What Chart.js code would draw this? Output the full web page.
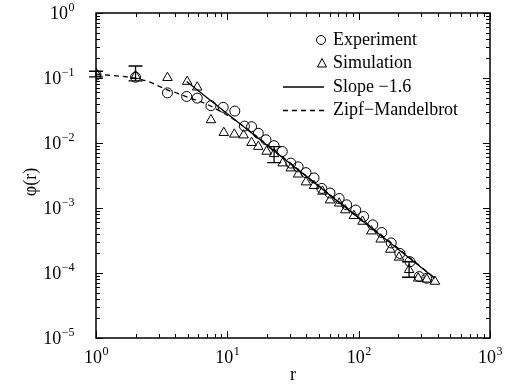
<!DOCTYPE html>
<html>
<head>
<meta charset="UTF-8">
<title>phi(r)</title>
<script src="https://cdn.jsdelivr.net/npm/chart.js"></script>
<style>
  body { margin: 0; background: #fff; }
  #wrap { width: 512px; height: 385px; }
</style>
</head>
<body>
<div id="wrap"><canvas id="c" width="512" height="385"></canvas></div>
<script>
// experiment (circles)
const expR = [1, 2, 3.5, 4.9, 5.9, 7.5, 9.3, 11.4, 13.5, 15.3, 17.2, 19.7, 22.7, 26.2, 30.4, 34.6, 39.7, 45.7, 52.4, 60.5, 71, 81, 95, 109, 128, 150, 177, 206, 246, 289, 330];
const expPhi = [0.111, 0.103, 0.059, 0.052, 0.049, 0.0375, 0.0354, 0.031, 0.0182, 0.0178, 0.0141, 0.0112, 0.0091, 0.0074, 0.0049, 0.0043, 0.0035, 0.0029, 0.0020, 0.0017, 0.0014, 0.00112, 0.00093, 0.00074, 0.00055, 0.00042, 0.00029, 0.00020, 0.000149, 0.000088, 0.000083];

// simulation (triangles)
const simR = [1, 2, 3.5, 4.95, 5.9, 7.5, 9.4, 11.3, 13.3, 15.3, 17.2, 19.9, 22.7, 26.4, 30.4, 34.6, 39.7, 45.7, 53, 60.5, 71, 79, 92, 107, 125, 147, 174, 203, 242, 284, 330, 381];
const simPhi = [0.118, 0.108, 0.101, 0.088, 0.072, 0.0226, 0.0144, 0.0136, 0.0132, 0.0101, 0.0088, 0.0074, 0.0068, 0.0049, 0.0041, 0.0033, 0.0025, 0.0022, 0.0018, 0.00132, 0.00118, 0.00093, 0.00076, 0.00062, 0.00044, 0.00033, 0.00023, 0.000174, 0.000112, 0.000083, 0.000080, 0.000074];

// error bars
const errR = [1, 2, 22.7, 242];
const errLo = [0.104, 0.090, 0.0050, 0.000086];
const errHi = [0.127, 0.153, 0.0088, 0.000149];

// fitted lines
const slopeR = [4.9, 380];
const slopePhi = [0.088, 0.000083];
const zipfR = [1, 2, 2.5, 3.45, 4.2, 5.2, 6.5, 8.1, 12, 20, 40, 100, 200, 380];
const zipfPhi = [0.115, 0.099, 0.088, 0.066, 0.058, 0.049, 0.042, 0.034, 0.021, 0.0095, 0.0031, 0.00072, 0.00024, 0.000083];

const xDecades = [0, 1, 2, 3];
const yDecades = [0, -1, -2, -3, -4, -5];

const legendNames = ['Experiment', 'Simulation', 'Slope \u22121.6', 'Zipf\u2212Mandelbrot'];

const SERIF = '"Liberation Serif", "DejaVu Serif", serif';

function pts(xs, ys) { return xs.map((x, i) => ({ x: x, y: ys[i] })); }

// frame, inward ticks, tick labels, axis titles, error bars, legend
const decor = {
  id: 'decor',
  afterDatasetsDraw(chart) {
    const ctx = chart.ctx;
    const a = chart.chartArea;
    const xs = chart.scales.x, ys = chart.scales.y;
    ctx.save();
    ctx.strokeStyle = '#000';
    ctx.fillStyle = '#000';

    // error bars
    ctx.lineWidth = 1.3;
    errR.forEach((r, i) => {
      const px = xs.getPixelForValue(r);
      const y1 = ys.getPixelForValue(errLo[i]);
      const y2 = ys.getPixelForValue(errHi[i]);
      ctx.beginPath();
      ctx.moveTo(px, y1); ctx.lineTo(px, y2);
      ctx.moveTo(px - 7, y1); ctx.lineTo(px + 7, y1);
      ctx.moveTo(px - 7, y2); ctx.lineTo(px + 7, y2);
      ctx.stroke();
    });

    // frame
    ctx.lineWidth = 1.5;
    ctx.strokeRect(a.left, a.top, a.right - a.left, a.bottom - a.top);

    // ticks
    ctx.lineWidth = 1;
    ctx.beginPath();
    for (let d = 0; d < 3; d++) {
      for (let m = 1; m <= 10; m++) {
        const v = m * Math.pow(10, d);
        const px = Math.round(xs.getPixelForValue(v)) + 0.5;
        const len = (m === 1 || m === 10) ? 7 : 4;
        ctx.moveTo(px, a.bottom); ctx.lineTo(px, a.bottom - len);
        ctx.moveTo(px, a.top); ctx.lineTo(px, a.top + len);
      }
    }
    for (let d = -5; d < 0; d++) {
      for (let m = 1; m <= 10; m++) {
        const v = m * Math.pow(10, d);
        const py = Math.round(ys.getPixelForValue(v)) + 0.5;
        const len = (m === 1 || m === 10) ? 7 : 4;
        ctx.moveTo(a.left, py); ctx.lineTo(a.left + len, py);
        ctx.moveTo(a.right, py); ctx.lineTo(a.right - len, py);
      }
    }
    ctx.stroke();

    // tick labels 10^n
    function power(x, y, exp, align) {
      ctx.font = '18px ' + SERIF;
      const w1 = ctx.measureText('10').width;
      ctx.font = '12px ' + SERIF;
      const w2 = ctx.measureText(exp).width;
      let x0 = align === 'right' ? x - w1 - w2 : x - (w1 + w2) / 2;
      ctx.textAlign = 'left';
      ctx.textBaseline = 'alphabetic';
      ctx.font = '18px ' + SERIF;
      ctx.fillText('10', x0, y);
      ctx.font = '12px ' + SERIF;
      ctx.fillText(exp, x0 + w1 + 0.5, y - 8);
    }
    xDecades.forEach(d => {
      power(xs.getPixelForValue(Math.pow(10, d)), a.bottom + 25, String(d), 'center');
    });
    yDecades.forEach(d => {
      const e = d === 0 ? '0' : '\u2212' + (-d);
      power(a.left - 22, ys.getPixelForValue(Math.pow(10, d)) + 6, e, 'right');
    });

    // axis titles
    ctx.font = '18px ' + SERIF;
    ctx.textAlign = 'center';
    ctx.fillText('r', (a.left + a.right) / 2, 380);
    ctx.save();
    ctx.translate(36, 182);
    ctx.rotate(-Math.PI / 2);
    ctx.fillText('\u03c6(r)', 0, 0);
    ctx.restore();

    // legend
    const lx = 333, ly0 = 40, dy = 23.5;
    ctx.textAlign = 'left';
    ctx.textBaseline = 'middle';
    ctx.font = '18px ' + SERIF;
    legendNames.forEach((t, i) => ctx.fillText(t, lx, ly0 + i * dy));
    ctx.lineWidth = 1;
    ctx.beginPath();
    ctx.arc(321, ly0, 4.5, 0, Math.PI * 2);
    ctx.stroke();
    ctx.beginPath();
    const ty = ly0 + dy;
    ctx.moveTo(322, ty - 5); ctx.lineTo(326.5, ty + 3.5); ctx.lineTo(317.5, ty + 3.5); ctx.closePath();
    ctx.stroke();
    ctx.lineWidth = 1.3;
    ctx.beginPath();
    ctx.moveTo(283, ly0 + 2 * dy); ctx.lineTo(324, ly0 + 2 * dy);
    ctx.stroke();
    ctx.setLineDash([5, 4]);
    ctx.beginPath();
    ctx.moveTo(283, ly0 + 3 * dy); ctx.lineTo(324, ly0 + 3 * dy);
    ctx.stroke();
    ctx.restore();
  }
};

new Chart(document.getElementById('c'), {
  type: 'scatter',
  data: {
    datasets: [
      { label: 'Zipf-Mandelbrot', data: pts(zipfR, zipfPhi), showLine: true, borderColor: '#000',
        borderWidth: 1.3, borderDash: [5, 4], pointRadius: 0, cubicInterpolationMode: 'monotone' },
      { label: 'Slope -1.6', data: pts(slopeR, slopePhi), showLine: true, borderColor: '#000',
        borderWidth: 1.3, pointRadius: 0 },
      { label: 'Experiment', data: pts(expR, expPhi), pointStyle: 'circle', pointRadius: 5,
        borderColor: '#000', borderWidth: 1, backgroundColor: 'rgba(0,0,0,0)' },
      { label: 'Simulation', data: pts(simR, simPhi), pointStyle: 'triangle', pointRadius: 5.5,
        borderColor: '#000', borderWidth: 1, backgroundColor: 'rgba(0,0,0,0)' }
    ]
  },
  options: {
    responsive: false,
    animation: false,
    devicePixelRatio: 1,
    layout: { padding: { left: 96, right: 22, top: 13, bottom: 47 } },
    plugins: { legend: { display: false }, tooltip: { enabled: false } },
    scales: {
      x: { type: 'logarithmic', min: 1, max: 1000, display: false },
      y: { type: 'logarithmic', min: 1e-5, max: 1, display: false }
    }
  },
  plugins: [decor]
});
</script>
</body>
</html>
